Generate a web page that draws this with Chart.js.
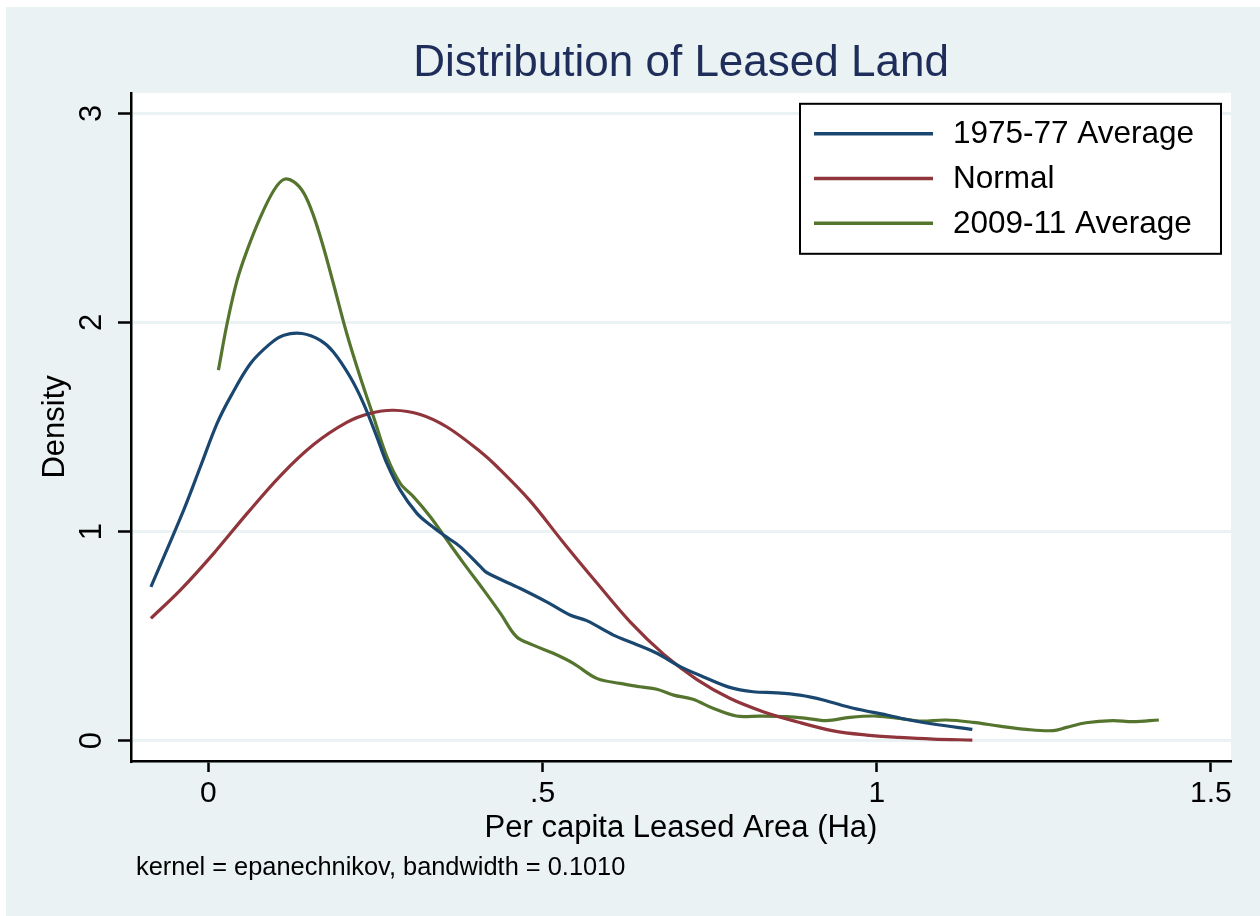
<!DOCTYPE html>
<html>
<head>
<meta charset="utf-8">
<script src="https://cdn.jsdelivr.net/npm/chart.js@4"></script>
<style>
  html, body { margin: 0; padding: 0; background: #fff; }
  canvas { display: block; }
</style>
</head>
<body>
<canvas id="kdensity" width="1260" height="916"></canvas>
<script>
// values
const xTicks = [0, 0.5, 1, 1.5];
const xTickLabels = ['0', '.5', '1', '1.5'];
const yTicks = [0, 1, 2, 3];
const yTickLabels = ['0', '1', '2', '3'];

const seriesNames = ['1975-77 Average', 'Normal', '2009-11 Average'];

const avg7577X = [-0.086, -0.037, -0.012, 0.013, 0.033, 0.063, 0.093, 0.113, 0.140, 0.167, 0.187, 0.212,
  0.232, 0.252, 0.267, 0.287, 0.312, 0.332, 0.352, 0.377, 0.407, 0.417, 0.466, 0.506, 0.541, 0.566,
  0.606, 0.636, 0.671, 0.706, 0.740, 0.780, 0.815, 0.850, 0.885, 0.920, 0.965, 1.015, 1.049, 1.084, 1.143];
const avg7577Y = [0.736, 1.103, 1.310, 1.517, 1.644, 1.804, 1.900, 1.939, 1.947, 1.915, 1.859, 1.740,
  1.613, 1.453, 1.326, 1.198, 1.087, 1.031, 0.983, 0.927, 0.832, 0.803, 0.729, 0.664, 0.601, 0.574,
  0.505, 0.466, 0.418, 0.354, 0.306, 0.255, 0.234, 0.229, 0.218, 0.195, 0.155, 0.123, 0.099, 0.080, 0.054];

const normalX = [-0.086, -0.042, 0.008, 0.058, 0.108, 0.157, 0.207, 0.242, 0.277, 0.317, 0.357, 0.407,
  0.432, 0.481, 0.531, 0.581, 0.631, 0.681, 0.731, 0.780, 0.830, 0.880, 0.935, 0.985, 1.034, 1.084, 1.143];
const normalY = [0.585, 0.720, 0.896, 1.087, 1.268, 1.415, 1.522, 1.565, 1.580, 1.560, 1.500, 1.382,
  1.310, 1.148, 0.948, 0.755, 0.568, 0.414, 0.292, 0.203, 0.139, 0.091, 0.047, 0.027, 0.016, 0.008, 0.003];

const avg0911X = [0.015, 0.028, 0.043, 0.058, 0.078, 0.098, 0.113, 0.128, 0.143, 0.157, 0.172, 0.187,
  0.207, 0.227, 0.247, 0.267, 0.287, 0.307, 0.332, 0.357, 0.382, 0.412, 0.437, 0.461, 0.486, 0.516,
  0.546, 0.581, 0.616, 0.646, 0.671, 0.696, 0.725, 0.755, 0.790, 0.825, 0.865, 0.895, 0.925, 0.960,
  1.000, 1.034, 1.064, 1.104, 1.144, 1.184, 1.224, 1.264, 1.284, 1.313, 1.353, 1.383, 1.422];
const avg0911Y = [1.772, 1.995, 2.202, 2.346, 2.505, 2.632, 2.684, 2.672, 2.617, 2.513, 2.361, 2.186,
  1.947, 1.740, 1.549, 1.358, 1.230, 1.166, 1.071, 0.959, 0.848, 0.720, 0.609, 0.497, 0.457, 0.418,
  0.370, 0.298, 0.274, 0.258, 0.246, 0.218, 0.198, 0.155, 0.118, 0.118, 0.115, 0.107, 0.096, 0.112,
  0.118, 0.107, 0.094, 0.099, 0.088, 0.070, 0.054, 0.048, 0.064, 0.086, 0.096, 0.091, 0.099];

const seriesColors = ['#1a476f', '#90353b', '#55752f'];
const pageBg = '#eaf2f3';
const fontFamily = '"Liberation Sans", Arial, sans-serif';

const toPoints = (xs, ys) => xs.map((x, i) => ({ x: x, y: ys[i] }));
const seriesData = [
    toPoints(avg7577X, avg7577Y),
    toPoints(normalX, normalY),
    toPoints(avg0911X, avg0911Y)
];

const backdrop = {
    id: 'backdrop',
    beforeDraw(chart) {
        const { ctx, chartArea } = chart;
        ctx.save();
        ctx.fillStyle = '#fff';
        ctx.fillRect(0, 0, chart.width, chart.height);
        ctx.fillStyle = pageBg;
        ctx.fillRect(6, 7, chart.width - 6, chart.height - 7);
        ctx.fillStyle = '#fff';
        ctx.fillRect(chartArea.left, chartArea.top, chartArea.right - chartArea.left, chartArea.bottom - chartArea.top);
        ctx.restore();
    }
};

// Stata style legend box inside the plot region
const boxLegend = {
    id: 'boxLegend',
    afterDatasetsDraw(chart) {
        const { ctx, chartArea } = chart;
        const w = 421, h = 150;
        const left = chartArea.right - 10 - w;
        const top = chartArea.top + 11;
        ctx.save();
        ctx.fillStyle = '#fff';
        ctx.fillRect(left, top, w, h);
        ctx.strokeStyle = '#000';
        ctx.lineWidth = 2;
        ctx.strokeRect(left, top, w, h);
        ctx.font = '31.5px ' + fontFamily;
        ctx.textBaseline = 'middle';
        ctx.textAlign = 'left';
        chart.data.datasets.forEach((ds, i) => {
            const y = top + 30 + i * 44.7;
            ctx.strokeStyle = ds.borderColor;
            ctx.lineWidth = 3.5;
            ctx.beginPath();
            ctx.moveTo(left + 14, y);
            ctx.lineTo(left + 133, y);
            ctx.stroke();
            ctx.fillStyle = '#000';
            ctx.fillText(ds.label, left + 153, y + 1);
        });
        ctx.restore();
    }
};

const footNote = {
    id: 'footNote',
    afterDraw(chart) {
        const { ctx } = chart;
        ctx.save();
        ctx.font = '25.4px ' + fontFamily;
        ctx.fillStyle = '#000';
        ctx.textBaseline = 'middle';
        ctx.textAlign = 'left';
        ctx.fillText('kernel = epanechnikov, bandwidth = 0.1010', 136, 868);
        ctx.restore();
    }
};

new Chart(document.getElementById('kdensity'), {
    type: 'scatter',
    data: {
        datasets: seriesNames.map((name, i) => ({
            label: name,
            data: seriesData[i],
            showLine: true,
            borderColor: seriesColors[i],
            backgroundColor: seriesColors[i],
            borderWidth: 3.2,
            pointRadius: 0,
            tension: 0.35,
            fill: false
        }))
    },
    options: {
        responsive: false,
        animation: false,
        devicePixelRatio: 1,
        events: [],
        layout: {
            padding: { top: 0, left: 0, right: 29, bottom: 69 }
        },
        scales: {
            x: {
                type: 'linear',
                min: -0.1158,
                max: 1.530,
                afterBuildTicks: (scale) => { scale.ticks = xTicks.map(v => ({ value: v })); },
                afterFit: (scale) => { scale.height = 86; },
                ticks: {
                    callback: (v) => xTickLabels[xTicks.indexOf(v)],
                    autoSkip: false,
                    maxRotation: 0,
                    padding: 4,
                    color: '#000',
                    font: { family: fontFamily, size: 30 }
                },
                grid: {
                    drawOnChartArea: false,
                    tickLength: 11,
                    tickColor: '#000',
                    tickWidth: 2.5
                },
                border: { color: '#000', width: 2.5 },
                title: {
                    display: true,
                    text: 'Per capita Leased Area (Ha)',
                    color: '#000',
                    padding: 0,
                    font: { family: fontFamily, size: 31 }
                }
            },
            y: {
                min: -0.097,
                max: 3.098,
                afterBuildTicks: (scale) => { scale.ticks = yTicks.map(v => ({ value: v })); },
                afterFit: (scale) => { scale.width = 131; },
                ticks: {
                    callback: (v) => yTickLabels[yTicks.indexOf(v)],
                    minRotation: 90,
                    maxRotation: 90,
                    crossAlign: 'center',
                    padding: 17,
                    color: '#000',
                    font: { family: fontFamily, size: 31 }
                },
                grid: {
                    color: pageBg,
                    lineWidth: 3,
                    tickLength: 13,
                    tickColor: '#000',
                    tickWidth: 2.5
                },
                border: { color: '#000', width: 2.5 },
                title: {
                    display: true,
                    text: 'Density',
                    color: '#000',
                    padding: { top: 37, bottom: 0 },
                    font: { family: fontFamily, size: 31 }
                }
            }
        },
        plugins: {
            legend: { display: false },
            tooltip: { enabled: false },
            title: {
                display: true,
                text: 'Distribution of Leased Land',
                fullSize: false,
                color: '#1e2d5a',
                padding: { top: 37, bottom: 3 },
                font: { family: fontFamily, size: 44, weight: 'normal' }
            }
        }
    },
    plugins: [backdrop, boxLegend, footNote]
});
</script>
</body>
</html>
